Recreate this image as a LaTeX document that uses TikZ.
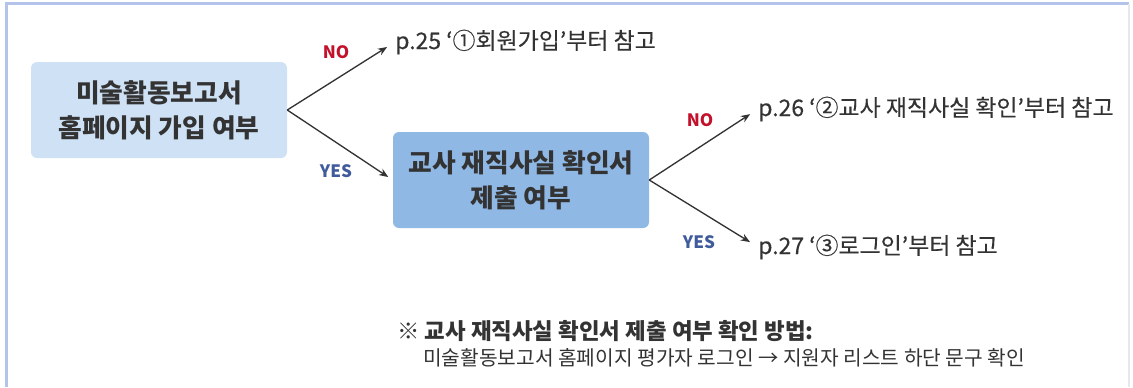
\documentclass[tikz,border=0pt]{standalone}
\usepackage{fontspec}
\setmainfont{Noto Sans CJK KR}
\newfontfamily\medfont[FakeBold=0.3]{Noto Sans CJK KR}
\usetikzlibrary{arrows.meta}

\definecolor{framecol}{HTML}{B3C3EA}
\definecolor{rimcol}{HTML}{E6E8EF}
\definecolor{boxlight}{HTML}{CFE2F5}
\definecolor{boxdark}{HTML}{8FB8E5}
\definecolor{textgray}{HTML}{333333}
\definecolor{nored}{HTML}{C3112B}
\definecolor{yesblue}{HTML}{3F5B9B}

\tikzset{
  qbox/.style={rounded corners=4.5pt, align=center, inner sep=0pt, minimum width=192pt, minimum height=72pt, font=\fontsize{19.3}{26}\selectfont\bfseries, text=textgray},
  ref/.style={anchor=west, inner sep=0pt, font=\fontsize{17.2}{20}\selectfont\medfont, text=textgray},
  note/.style={anchor=west, inner sep=0pt, text=textgray},
  ans/.style={inner sep=0pt, font=\fontsize{12.8}{14}\selectfont\bfseries},
  link/.style={-{Stealth[length=7pt,width=5.5pt]}, line width=1pt, draw=textgray},
}

\begin{document}
\begin{tikzpicture}[x=0.75pt,y=-0.75pt]
\useasboundingbox (0,0) rectangle (1133,387);

% Draw frame lines.
\draw[framecol, line width=2.2pt] (6.5,387) -- (6.5,3.5) -- (1129,3.5);
\draw[rimcol, line width=0.8pt] (1129,3.5) -- (1129,387);

% Question boxes.
\node[qbox, fill=boxlight] (join) at (159,110) {미술활동보고서\\홈페이지 가입 여부};
\node[qbox, fill=boxdark] (check) at (521,180) {교사 재직사실 확인서\\제출 여부};

% Where to read next.
\node[ref] (p25) at (395,42) {p.25 ‘①회원가입’부터 참고};
\node[ref] (p26) at (758,109) {p.26 ‘②교사 재직사실 확인’부터 참고};
\node[ref] (p27) at (758,247) {p.27 ‘③로그인’부터 참고};

% Draw branches, and answer labels.
\draw[link, shorten >=7pt] (join.east) -- (p25.west);
\draw[link, shorten >=4pt] (join.east) -- (check.west);
\draw[link, shorten >=7pt] (check.east) -- (p26.west);
\draw[link, shorten >=7pt] (check.east) -- (p27.west);

\node[ans, text=nored] (no1) at (336,52) {NO};
\node[ans, text=yesblue] (yes1) at (336,171) {YES};
\node[ans, text=nored] (no2) at (700,120) {NO};
\node[ans, text=yesblue] (yes2) at (699,242) {YES};

% Note at the bottom.
\node[note, font=\fontsize{16.8}{20}\selectfont\bfseries] (howto) at (397,331) {※ 교사 재직사실 확인서 제출 여부 확인 방법:};
\node[note, font=\fontsize{15.2}{18}\selectfont] (howstep) at (423,358) {미술활동보고서 홈페이지 평가자 로그인 → 지원자 리스트 하단 문구 확인};

\end{tikzpicture}
\end{document}
